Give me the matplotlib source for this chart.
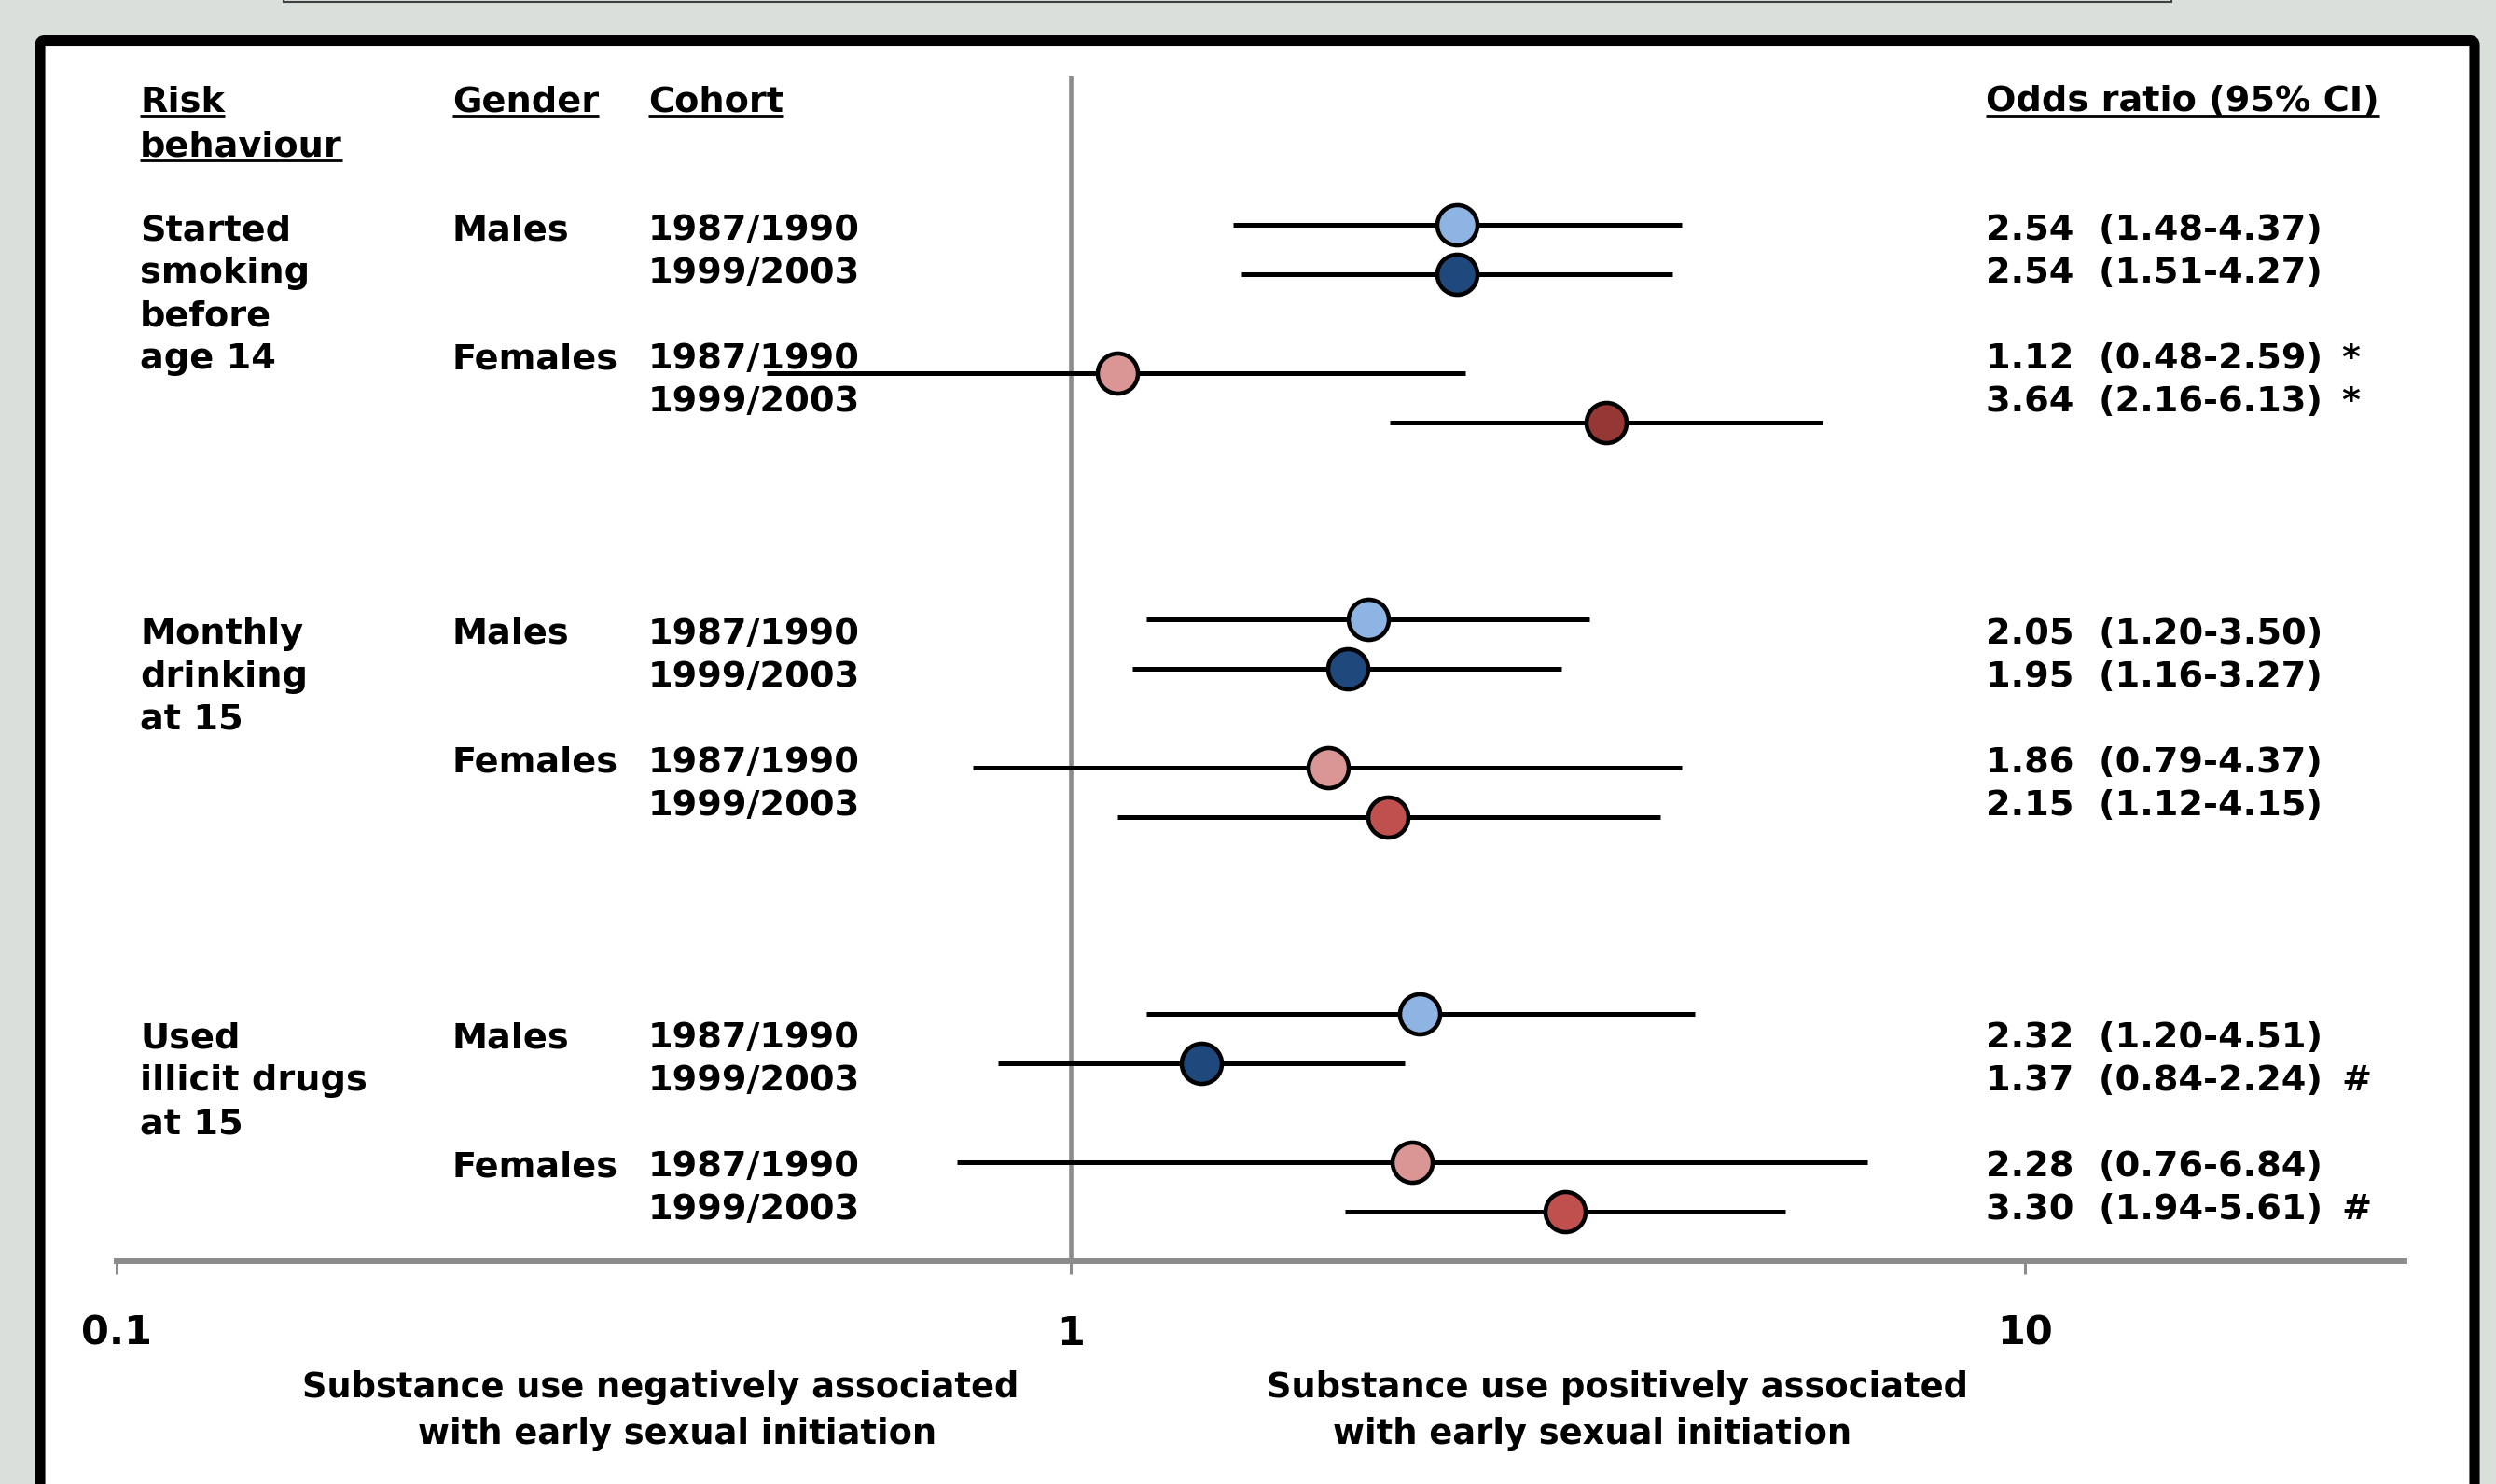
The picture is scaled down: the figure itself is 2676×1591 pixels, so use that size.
import matplotlib
matplotlib.use("Agg")
import matplotlib.pyplot as plt
from matplotlib.patches import FancyBboxPatch, Rectangle
from matplotlib.ticker import NullLocator
import numpy as np

# ---- data ----
behaviours = [["Started", "smoking", "before", "age 14"],
              ["Monthly", "drinking", "at 15"],
              ["Used", "illicit drugs", "at 15"]]
genders = ["Males", "Females"]
cohorts = ["1987/1990", "1999/2003"]
odds = [[2.54, 2.54, 1.12, 3.64],
        [2.05, 1.95, 1.86, 2.15],
        [2.32, 1.37, 2.28, 3.30]]
ci_lo = [[1.48, 1.51, 0.48, 2.16],
         [1.20, 1.16, 0.79, 1.12],
         [1.20, 0.84, 0.76, 1.94]]
ci_hi = [[4.37, 4.27, 2.59, 6.13],
         [3.50, 3.27, 4.37, 4.15],
         [4.51, 2.24, 6.84, 5.61]]
flags = [["", "", "*", "*"],
         ["", "", "", ""],
         ["", "#", "", "#"]]
headers = ["Risk", "Gender", "Cohort", "Odds ratio (95% CI)"]
xticks = [0.1, 1, 10]
xtick_labels = ["0.1", "1", "10"]
neg_caption = ["Substance use negatively associated", "with early sexual initiation"]
pos_caption = ["Substance use positively associated", "with early sexual initiation"]

LIGHT_BLUE = "#8eb4e3"
DARK_BLUE = "#1f497d"
PINK = "#d99694"
RED = "#c0504d"
DARK_RED = "#953735"
marker_colors = [[LIGHT_BLUE, DARK_BLUE, PINK, DARK_RED],
                 [LIGHT_BLUE, DARK_BLUE, PINK, RED],
                 [LIGHT_BLUE, DARK_BLUE, PINK, RED]]

BG = "#d9dfdb"
GREY = "#8c8c8c"

plt.rcParams['font.family'] = 'DejaVu Sans'
plt.rcParams['font.weight'] = 'bold'

W, H = 2676, 1591
fig = plt.figure(figsize=(W / 100, H / 100), dpi=100, facecolor=BG)

# background layer in pixel units (y down)
bg = fig.add_axes([0, 0, 1, 1])
bg.set_xlim(0, W)
bg.set_ylim(H, 0)
bg.axis('off')
bg.add_patch(Rectangle((304, -40), 2024, 42, fc=BG, ec='#404040', lw=1.5))
bg.add_patch(FancyBboxPatch((43, 43.5), 2610, 1700,
                            boxstyle="round,pad=0,rounding_size=5",
                            fc='white', ec='black', lw=8))

# forest axes: log x, one row unit per study line
dec_px = 1023.2
x_left = 124.6
xmin, xmax = 0.1, 25
row0_px, row_px = 241, 52.9
ytop, ybot = -3, 21
ax_w = np.log10(xmax / xmin) * dec_px
ax_top = row0_px + ytop * row_px
ax_bot = row0_px + ybot * row_px
ax = fig.add_axes([x_left / W, 1 - ax_bot / H, ax_w / W, (ax_bot - ax_top) / H])
ax.patch.set_alpha(0)
ax.set_xscale('log')
ax.set_xlim(xmin, xmax)
ax.set_ylim(ybot, ytop)

row_offsets = [0, 1, 3, 4]
group_step = 8
for g in range(len(odds)):
    for i in range(4):
        y = g * group_step + row_offsets[i]
        ax.plot([ci_lo[g][i], ci_hi[g][i]], [y, y], color='black', lw=3.6,
                solid_capstyle='butt', zorder=2)
        ax.plot(odds[g][i], y, 'o', ms=31, mfc=marker_colors[g][i],
                mec='black', mew=3.3, zorder=3)

ax.axvline(1, color=GREY, lw=3.3, zorder=1)
for s in ['top', 'right', 'left']:
    ax.spines[s].set_visible(False)
ax.spines['bottom'].set_color(GREY)
ax.spines['bottom'].set_linewidth(4.3)
ax.set_yticks([])
ax.set_xticks(xticks, labels=xtick_labels)
ax.xaxis.set_minor_locator(NullLocator())
ax.tick_params(axis='x', length=10, width=2.2, color=GREY, pad=31,
               labelsize=31)

# ---- table text ----
FS = 27.5
x_risk, x_gender, x_cohort, x_odds, x_flag = 150, 485, 695, 2129, 2510
head_base = 119
first_base, line_px, group_px = 257, 46, 433

head_texts = []
for txt, x in zip(headers, [x_risk, x_gender, x_cohort, x_odds]):
    head_texts.append(bg.text(x, head_base, txt, fontsize=FS, va='baseline'))
head_texts.append(bg.text(x_risk, head_base + 48, "behaviour", fontsize=FS,
                          va='baseline'))

for g in range(len(odds)):
    base = first_base + g * group_px
    for k, line in enumerate(behaviours[g]):
        bg.text(x_risk, base + k * line_px, line, fontsize=FS, va='baseline')
    bg.text(x_gender, base, genders[0], fontsize=FS, va='baseline')
    bg.text(x_gender, base + 3 * line_px, genders[1], fontsize=FS, va='baseline')
    for i in range(4):
        yb = base + row_offsets[i] * line_px
        bg.text(x_cohort, yb, cohorts[i % 2], fontsize=FS, va='baseline')
        s = f"{odds[g][i]:.2f}  ({ci_lo[g][i]:.2f}-{ci_hi[g][i]:.2f})"
        bg.text(x_odds, yb, s, fontsize=FS, va='baseline')
        if flags[g][i]:
            bg.text(x_flag, yb, flags[g][i], fontsize=FS, va='baseline')

# captions under the axis
CFS = 26.5
for k, (cx, lines) in enumerate([((708, 726), neg_caption), ((1734, 1707), pos_caption)]):
    for j, line in enumerate(lines):
        bg.text(cx[j], 1498 + j * 50, line, fontsize=CFS, ha='center',
                va='baseline')

# underline the column headers
fig.canvas.draw()
rend = fig.canvas.get_renderer()
for t in head_texts:
    bb = t.get_window_extent(rend)
    x, y = t.get_position()
    bg.plot([bb.x0, bb.x1], [y + 5, y + 5], color='black', lw=2,
            solid_capstyle='butt')

fig.savefig('out.png', dpi=100, facecolor=BG)
